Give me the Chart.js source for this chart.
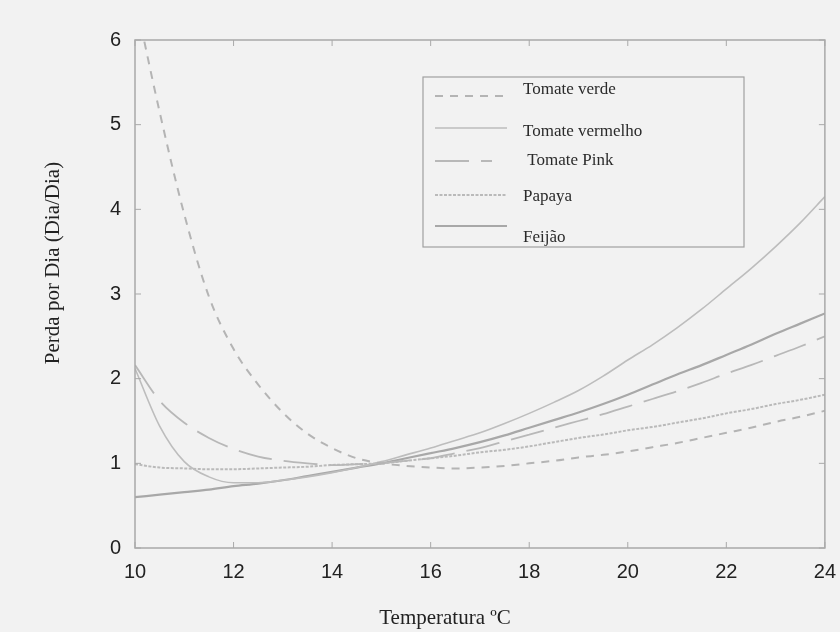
<!DOCTYPE html>
<html>
<head>
<meta charset="utf-8">
<script src="https://cdn.jsdelivr.net/npm/chart.js@4.4.0/dist/chart.umd.min.js"></script>
<style>
  html, body { margin: 0; padding: 0; background: #f2f2f2; }
  #wrap { width: 840px; height: 632px; }
</style>
</head>
<body>
<div id="wrap"><canvas id="chart" width="840" height="632"></canvas></div>
<script>
// temperatura (ºC)
const temps = [10, 10.5, 11, 11.5, 12, 12.5, 13, 13.5, 14, 14.5, 15, 15.5, 16, 16.5, 17, 17.5,
               18, 18.5, 19, 19.5, 20, 20.5, 21, 21.5, 22, 22.5, 23, 23.5, 24];

const tomateVerde = [6.5, 5.15, 3.94, 2.97, 2.35, 1.93, 1.6, 1.35, 1.18, 1.06, 1.0, 0.97, 0.95, 0.94, 0.95, 0.97,
                     1.0, 1.03, 1.07, 1.1, 1.14, 1.19, 1.24, 1.3, 1.36, 1.42, 1.49, 1.55, 1.62];
const tomateVermelho = [2.12, 1.44, 1.02, 0.84, 0.77, 0.77, 0.8, 0.84, 0.89, 0.95, 1.02, 1.1, 1.18, 1.27, 1.36, 1.47,
                        1.59, 1.72, 1.86, 2.03, 2.22, 2.4, 2.6, 2.82, 3.06, 3.3, 3.56, 3.84, 4.15];
const tomatePink = [2.16, 1.74, 1.48, 1.3, 1.17, 1.08, 1.03, 1.0, 0.98, 0.99, 1.0, 1.03, 1.06, 1.12, 1.18, 1.26,
                    1.34, 1.42, 1.5, 1.58, 1.67, 1.76, 1.85, 1.95, 2.06, 2.16, 2.27, 2.38, 2.5];
const papaya = [0.99, 0.95, 0.94, 0.93, 0.93, 0.94, 0.95, 0.96, 0.98, 0.99, 1.0, 1.03, 1.06, 1.09, 1.13, 1.16,
                1.2, 1.25, 1.3, 1.34, 1.39, 1.43, 1.48, 1.53, 1.59, 1.64, 1.7, 1.75, 1.81];
const feijao = [0.6, 0.63, 0.66, 0.69, 0.73, 0.76, 0.8, 0.85, 0.9, 0.95, 1.0, 1.06, 1.12, 1.18, 1.25, 1.33,
                1.42, 1.51, 1.6, 1.7, 1.81, 1.93, 2.05, 2.16, 2.28, 2.4, 2.53, 2.65, 2.77];

const legendNames = ["Tomate verde", "Tomate vermelho", " Tomate Pink", "Papaya", "Feijão"];
const xTitle = "Temperatura ºC";
const yTitle = "Perda por Dia (Dia/Dia)";

function pts(vals) {
    return temps.map(function(t, i){ return {x: t, y: vals[i]}; });
}

const series = [
    {name: legendNames[0], data: tomateVerde, color: "#b4b4b4", width: 2, dash: [8, 7]},
    {name: legendNames[1], data: tomateVermelho, color: "#bdbdbd", width: 1.6, dash: []},
    {name: legendNames[2], data: tomatePink, color: "#b8b8b8", width: 1.8, dash: [34, 12]},
    {name: legendNames[3], data: papaya, color: "#bababa", width: 2, dash: [3, 1.5]},
    {name: legendNames[4], data: feijao, color: "#a8a8a8", width: 2.2, dash: []}
];

// frame, inward ticks, axis titles and legend box
const decor = {
    id: "decor",
    afterDraw(chart) {
        const ctx = chart.ctx;
        const a = chart.chartArea;
        const xs = chart.scales.x, ys = chart.scales.y;
        ctx.save();
        ctx.strokeStyle = "#a9a9a9";
        ctx.lineWidth = 1.5;
        ctx.strokeRect(a.left, a.top, a.right - a.left, a.bottom - a.top);
        ctx.lineWidth = 1;
        xs.ticks.forEach(function(t){
            const px = xs.getPixelForValue(t.value);
            ctx.beginPath();
            ctx.moveTo(px, a.bottom); ctx.lineTo(px, a.bottom - 6);
            ctx.moveTo(px, a.top); ctx.lineTo(px, a.top + 6);
            ctx.stroke();
        });
        ys.ticks.forEach(function(t){
            const py = ys.getPixelForValue(t.value);
            ctx.beginPath();
            ctx.moveTo(a.left, py); ctx.lineTo(a.left + 6, py);
            ctx.moveTo(a.right, py); ctx.lineTo(a.right - 6, py);
            ctx.stroke();
        });

        // axis titles
        ctx.fillStyle = "#222";
        ctx.font = "21px 'Liberation Serif', serif";
        ctx.textAlign = "center";
        ctx.textBaseline = "middle";
        ctx.fillText(xTitle, 445, 618);
        ctx.save();
        ctx.translate(53, 263);
        ctx.rotate(-Math.PI / 2);
        ctx.fillText(yTitle, 0, 0);
        ctx.restore();

        // legend
        const lx = a.left + 288, ly = a.top + 37;
        ctx.strokeStyle = "#a0a0a0";
        ctx.lineWidth = 1.2;
        ctx.strokeRect(lx, ly, 321, 170);
        const lineY = [19, 51, 84, 118, 149];
        const textY = [13, 55, 84, 120, 161];
        const lineEnd = [72, 72, 57, 72, 72];
        ctx.font = "17px 'Liberation Serif', serif";
        ctx.textAlign = "left";
        series.forEach(function(s, i){
            ctx.strokeStyle = s.color;
            ctx.lineWidth = s.width;
            ctx.setLineDash(s.dash);
            ctx.beginPath();
            ctx.moveTo(lx + 12, ly + lineY[i]);
            ctx.lineTo(lx + 12 + lineEnd[i], ly + lineY[i]);
            ctx.stroke();
            ctx.setLineDash([]);
            ctx.fillStyle = "#2a2a2a";
            ctx.fillText(s.name, lx + 100, ly + textY[i]);
        });
        ctx.restore();
    }
};

new Chart(document.getElementById("chart"), {
    type: "line",
    data: {
        datasets: series.map(function(s){
            return {
                label: s.name,
                data: pts(s.data),
                borderColor: s.color,
                borderWidth: s.width,
                borderDash: s.dash,
                pointRadius: 0,
                fill: false,
                cubicInterpolationMode: "monotone"
            };
        })
    },
    options: {
        responsive: false,
        animation: false,
        layout: {padding: {left: 0, top: 40, right: 15, bottom: 0}},
        plugins: {legend: {display: false}, tooltip: {enabled: false}},
        scales: {
            x: {
                type: "linear",
                min: 10, max: 24,
                ticks: {stepSize: 2, color: "#222", padding: 4, font: {family: "'Liberation Sans', Arial", size: 20}},
                grid: {display: false},
                border: {display: false},
                afterFit: function(scale){ scale.height = 84; }
            },
            y: {
                min: 0, max: 6,
                ticks: {stepSize: 1, color: "#222", padding: 6, font: {family: "'Liberation Sans', Arial", size: 20}},
                grid: {display: false},
                border: {display: false},
                afterFit: function(scale){ scale.width = 135; }
            }
        }
    },
    plugins: [decor]
});
</script>
</body>
</html>
